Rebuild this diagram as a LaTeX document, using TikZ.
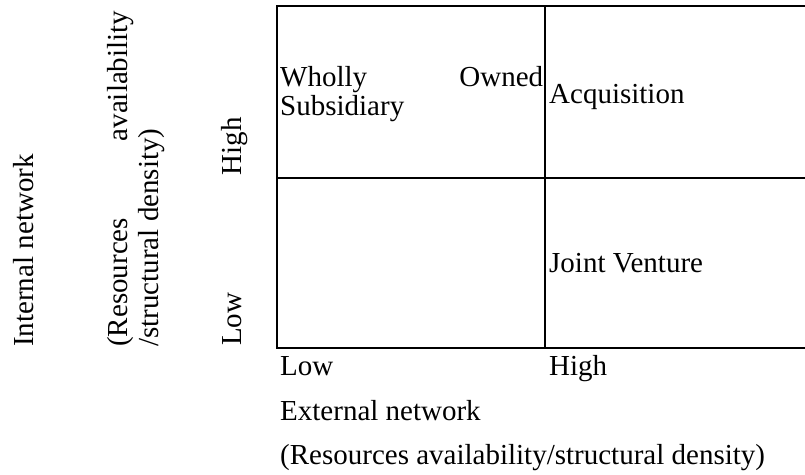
\documentclass[tikz,border=0pt]{standalone}
\usepackage{fontspec}
\setmainfont{Liberation Serif}
\begin{document}
\begin{tikzpicture}[x=1pt,y=-1pt,
    txt/.style={anchor=base west, inner sep=0pt, font=\fontsize{29}{33}\selectfont},
    vtxt/.style={txt, rotate=90}]
\useasboundingbox (0,0) rectangle (805,474);

            % the matrix (right edge runs off the page)
            \draw[line width=2pt] (805,6) -- (277,6) -- (277,347.7) -- (805,347.7);
            \draw[line width=2pt] (277,177.7) -- (805,177.7);
            \draw[line width=2pt] (544.7,6) -- (544.7,347.7);

            \node[txt] (wos) at (280,86.7) {\makebox[263pt][s]{Wholly Owned}};
            \node[txt] (sub) at (280,115) {Subsidiary};
            \node[txt] (acq) at (549,103) {Acquisition};
            \node[txt] (jv) at (549,272) {Joint Venture};

            % horizontal axis
            \node[txt] (xlow) at (280,375.5) {Low};
            \node[txt] (xhigh) at (549,375.5) {High};
            \node[txt] (xname) at (280,420) {External network};
            \node[txt] (xsub) at (280,464.5) {(Resources availability/structural density)};

            % vertical axis
            \node[vtxt] (ylow) at (241.7,346) {Low};
            \node[vtxt] (yhigh) at (241.7,175.5) {High};
            \node[vtxt] (yname) at (33.3,347) {Internal network};
            \node[vtxt] (ysuba) at (127,347) {\makebox[336pt][s]{(Resources availability}};
            \node[vtxt] (ysubb) at (158,347) {/structural density)};
            %\node[vtxt] (yall) at (127,347) {(Resources availability /structural density)};

\end{tikzpicture}
\end{document}
